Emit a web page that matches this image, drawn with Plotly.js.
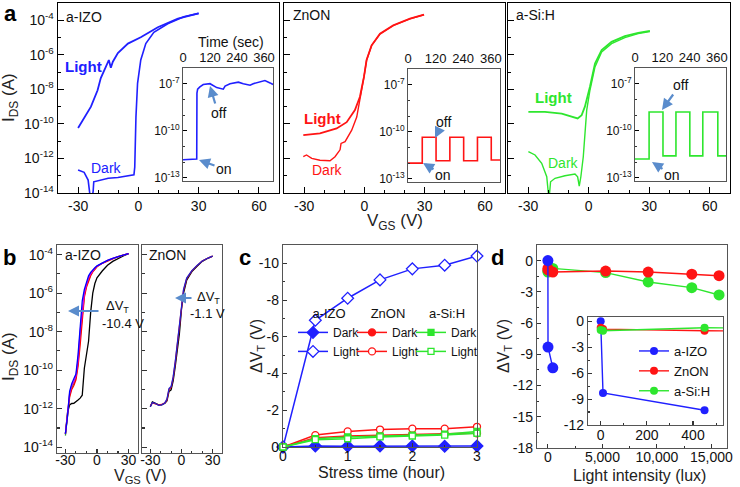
<!DOCTYPE html>
<html><head><meta charset="utf-8">
<script src="https://cdn.plot.ly/plotly-3.0.1.min.js"></script>
<style>html,body{margin:0;padding:0;background:#fff;}#chart{width:740px;height:487px;}</style>
</head><body><div id="chart"></div>
<script>
// ================= DATA =================
// Panel a : transfer curves, V_GS (V) and log10(I_DS / A)
const izoLightV = [-30, -27.6, -23.6, -20.3, -18.7, -16.2, -14.7, -13.7, -12.7, -10.2, -5.2, 1.2, 9.7, 19.7, 30];
const izoLightLogI = [-10.24, -9.8, -9.0, -8.05, -7.35, -6.7, -6.3, -6.75, -6.4, -5.9, -5.35, -4.98, -4.4, -3.9, -3.6];
const izoDarkV = [-30, -27, -25, -23.8, -23.2, -22.5, -22.2, -20, -18.7, -15, -10.2, -6, -2.2, -1.8, -1.2, -0.4, 1.2, 3.7, 7.7, 14.6, 22.6, 30];
const izoDarkLogI = [-12.67, -12.8, -13.25, -14.4, -14.4, -13.9, -13.35, -13.3, -13.25, -13.15, -13.1, -13.02, -12.95, -12.5, -9.6, -7.65, -6.3, -5.35, -4.7, -4.2, -3.8, -3.6];

const znonLightV = [-30.4, -22.1, -13.8, -8.8, -4.7, -2.2, -0.2, 1.1, 3.6, 7.8, 14.4, 22.7, 29.7];
const znonLightLogI = [-10.65, -10.55, -10.26, -9.9, -9.2, -8.43, -7.28, -6.3, -5.45, -4.77, -4.29, -3.9, -3.67];
const znonDarkV = [-30.4, -28.8, -26.2, -22.1, -17.1, -14.6, -12.1, -11.6, -9.6, -6.3, -3.8, -1.8, -0.2, 1.1, 3.6, 7.8, 14.4, 22.7, 29.7];
const znonDarkLogI = [-11.9, -11.8, -12.0, -12.1, -12.13, -11.9, -11.5, -11.13, -11.03, -10.36, -9.6, -8.43, -7.28, -6.32, -5.47, -4.8, -4.31, -3.92, -3.68];

const asiLightV = [-29.9, -21.7, -13.4, -7.7, -5.5, -3.5, -1.9, 0.6, 3.1, 6.4, 11.3, 17.9, 24.5, 30.3];
const asiLightLogI = [-9.3, -9.3, -9.4, -9.62, -9.68, -9.49, -9.0, -7.85, -6.5, -5.73, -5.25, -4.92, -4.73, -4.62];
const asiDarkV = [-29.9, -26.6, -23.3, -20.8, -19.7, -18.9, -16.7, -11.8, -6.8, -5.5, -4.7, -3.9, -2.7, -1.9, -1.0, 0.6, 3.1, 6.4, 11.3, 17.9, 24.5, 30.3];
const asiDarkLogI = [-11.6, -11.8, -12.28, -13.06, -14.4, -13.35, -13.15, -13.0, -12.9, -13.06, -13.6, -13.06, -11.9, -10.55, -9.2, -8.05, -6.7, -5.83, -5.35, -5.0, -4.77, -4.65];

// Panel a insets : time (s) and log10(I_DS)
const izoInsetT = [0, 61, 62, 65, 75, 90, 120, 150, 179, 187, 209, 246, 268, 298, 312, 364, 387, 400];
const izoInsetLogI = [-11.85, -11.8, -7.6, -7.35, -7.2, -7.05, -7.0, -7.25, -7.35, -7.15, -7.0, -6.9, -7.0, -7.1, -7.0, -6.8, -6.95, -7.05];
const znonInsetT = [0, 62, 62, 122, 122, 182, 182, 242, 242, 302, 302, 362, 362, 400];
const znonInsetLogI = [-12.0, -12.0, -10.35, -10.35, -11.85, -11.85, -10.35, -10.35, -11.85, -11.85, -10.35, -10.35, -11.8, -11.8];
const asiInsetT = [0, 62, 62, 123, 123, 180, 180, 241, 241, 298, 298, 364, 364, 400];
const asiInsetLogI = [-11.8, -11.8, -8.8, -8.8, -11.6, -11.6, -8.8, -8.8, -11.6, -11.6, -8.8, -8.8, -11.6, -11.6];

// Panel b : curves under light stress
const bIzoV = [-30, -28, -26, -24, -22, -20, -18, -16, -14, -12, -10, -8, -6, -4, -2, 0, 5, 10, 15, 20, 25, 30];
const bIzoBlack = [-13.3, -12.2, -11.8, -11.73, -11.72, -11.65, -11.55, -11.45, -11.3, -9.9, -9.05, -8.5, -7.0, -6.0, -5.5, -5.2, -4.85, -4.55, -4.35, -4.2, -4.07, -3.95];
const bIzoRed = [-13.3, -12.3, -11.4, -11.0, -10.8, -10.5, -9.8, -8.7, -7.3, -6.2, -5.7, -5.35, -5.1, -4.9, -4.75, -4.63, -4.45, -4.32, -4.2, -4.1, -4.02, -3.95];
const bIzoGreen = [-13.4, -12.3, -11.3, -10.9, -10.7, -10.4, -9.6, -8.3, -7.1, -6.1, -5.6, -5.28, -5.05, -4.86, -4.72, -4.62, -4.44, -4.31, -4.2, -4.1, -4.02, -3.95];
const bIzoMagenta = [-13.3, -12.35, -11.2, -10.8, -10.6, -10.3, -9.5, -8.0, -6.9, -6.0, -5.55, -5.2, -5.0, -4.82, -4.7, -4.6, -4.43, -4.3, -4.2, -4.1, -4.02, -3.95];
const bIzoBlue = [-13.3, -12.4, -11.1, -10.7, -10.45, -10.2, -9.2, -7.5, -6.4, -5.8, -5.45, -5.1, -4.92, -4.78, -4.68, -4.58, -4.42, -4.3, -4.2, -4.1, -4.02, -3.95];
const bZnonV = [-30, -28, -25, -22, -19, -16, -14, -12.5, -12, -10, -8, -6, -4, -2, 0, 2, 5, 10, 15, 20, 25, 30];
const bZnonBlack = [-11.9, -11.65, -11.72, -11.8, -11.8, -11.72, -11.6, -11.3, -11.1, -11.02, -10.55, -9.8, -8.95, -8.1, -6.85, -6.0, -5.33, -4.88, -4.6, -4.35, -4.2, -4.08];
const bZnonRed = [-11.85, -11.7, -11.75, -11.8, -11.78, -11.7, -11.55, -11.2, -11.0, -10.9, -10.4, -9.6, -8.7, -7.8, -6.6, -5.85, -5.25, -4.84, -4.57, -4.33, -4.19, -4.08];
const bZnonBlue = [-11.9, -11.68, -11.73, -11.82, -11.8, -11.7, -11.5, -11.15, -10.95, -10.85, -10.35, -9.55, -8.6, -7.7, -6.5, -5.8, -5.22, -4.83, -4.56, -4.33, -4.19, -4.08];

// Panel c : ΔV_T vs stress time
const stressHours = [0, 0.5, 1, 1.5, 2, 2.5, 3];
const cIzoDark = [0, -0.05, -0.04, -0.05, -0.05, -0.04, -0.05];
const cIzoLight = [0, -6.9, -8.1, -9.1, -9.7, -9.9, -10.4];
const cZnonDark = [0, -0.5, -0.6, -0.65, -0.7, -0.72, -0.75];
const cZnonLight = [0, -0.65, -0.85, -0.95, -1.0, -1.0, -1.1];
const cAsiDark = [0, -0.45, -0.55, -0.6, -0.65, -0.7, -0.85];
const cAsiLight = [0, -0.4, -0.45, -0.55, -0.6, -0.65, -0.75];

// Panel d : ΔV_T vs light intensity
const dIzoLux = [0, 10, 450];
const dIzoDVT = [0, -8.3, -10.3];
const dLux = [0, 10, 450, 5300, 9200, 13200, 15700];
const dZnonDVT = [-0.75, -0.9, -1.1, -1.0, -1.1, -1.3, -1.45];
const dAsiDVT = [-1.0, -1.1, -0.75, -1.15, -2.05, -2.6, -3.3];

// Tick labels
const logTicksA = [-14, -12, -10, -8, -6, -4];
const logMinorA = [-13, -11, -9, -7, -5, -3];
const insetTicks = [-13, -10, -7];
const insetMinor = [-12, -11, -9, -8];
const timeTicks = [0, 120, 240, 360];
const vTicksA = [-30, 0, 30, 60];
const vTicksB = [-30, 0, 30];
const cYTicks = [-10, -8, -6, -4, -2, 0];
const dYTicks = [0, -3, -6, -9, -12, -15, -18];
const dInsetYTicks = [0, -3, -6, -9, -12];
const dXTicks = [0, 5000, 10000, 15000];
const dXTickText = ['0', '5,000', '10,000', '15,000'];
const dInsetXTicks = [0, 200, 400];

// ================= STYLE / LAYOUT =================
const FONT = 'Arial, "Liberation Sans", sans-serif';
const BLUE = '#2020ff', RED = '#ff1414', GREEN = '#2ee62e', ARROW = '#5a8ccc';
const W = 740, H = 487;
const dx = (a, b) => [a / W, b / W];
const dy = (t, b) => [1 - b / H, 1 - t / H];
const pow10 = a => a.map(v => Math.pow(10, v));
const txt = v => String(v);

const traces = [];
function ln(x, y, xa, ya, color, width) {
  traces.push({type: 'scatter', mode: 'lines', x: x, y: y, xaxis: xa, yaxis: ya,
    line: {color: color, width: width}, showlegend: false, hoverinfo: 'skip'});
}
// Panel a
ln(izoLightV, pow10(izoLightLogI), 'x', 'y', BLUE, 1.8);
ln(izoDarkV, pow10(izoDarkLogI), 'x', 'y', BLUE, 1.6);
ln(znonLightV, pow10(znonLightLogI), 'x2', 'y2', RED, 1.8);
ln(znonDarkV, pow10(znonDarkLogI), 'x2', 'y2', RED, 1.4);
ln(asiLightV, pow10(asiLightLogI), 'x3', 'y3', GREEN, 1.8);
ln(asiDarkV, pow10(asiDarkLogI), 'x3', 'y3', GREEN, 1.4);
ln(izoInsetT, pow10(izoInsetLogI), 'x4', 'y4', BLUE, 1.6);
ln(znonInsetT, pow10(znonInsetLogI), 'x5', 'y5', RED, 1.6);
ln(asiInsetT, pow10(asiInsetLogI), 'x6', 'y6', GREEN, 1.6);
// Panel b
ln(bIzoV, pow10(bIzoBlack), 'x7', 'y7', '#000000', 1.3);
ln(bIzoV, pow10(bIzoGreen), 'x7', 'y7', '#3a9a3a', 1.3);
ln(bIzoV, pow10(bIzoRed), 'x7', 'y7', '#ff0000', 1.3);
ln(bIzoV, pow10(bIzoMagenta), 'x7', 'y7', '#e000e0', 1.3);
ln(bIzoV, pow10(bIzoBlue), 'x7', 'y7', '#0000ff', 1.3);
ln(bZnonV, pow10(bZnonBlack), 'x8', 'y8', '#000000', 1.3);
ln(bZnonV, pow10(bZnonRed), 'x8', 'y8', '#ff0000', 1.3);
ln(bZnonV, pow10(bZnonBlue), 'x8', 'y8', '#2020d0', 1.3);
// Panel c
function cTrace(y, color, symbol, open, name, leg, size) {
  traces.push({type: 'scatter', mode: 'lines+markers', x: stressHours, y: y, xaxis: 'x9', yaxis: 'y9',
    name: name, legend: leg, showlegend: true, cliponaxis: false, hoverinfo: 'skip',
    line: {color: color, width: 1.5},
    marker: {symbol: symbol, size: size, color: open ? '#ffffff' : color, line: {color: color, width: 1.3}}});
}
cTrace(cIzoDark, BLUE, 'diamond', false, 'Dark', 'legend', 9);
cTrace(cIzoLight, BLUE, 'diamond', true, 'Light', 'legend', 9);
cTrace(cZnonDark, RED, 'circle', false, 'Dark', 'legend2', 7);
cTrace(cZnonLight, RED, 'circle', true, 'Light', 'legend2', 7);
cTrace(cAsiDark, GREEN, 'square', false, 'Dark', 'legend3', 6);
cTrace(cAsiLight, GREEN, 'square', true, 'Light', 'legend3', 6);
// Panel d
function dTrace(x, y, color, xa, ya, size, name, show) {
  traces.push({type: 'scatter', mode: 'lines+markers', x: x, y: y, xaxis: xa, yaxis: ya,
    name: name, legend: 'legend4', showlegend: show, cliponaxis: true, hoverinfo: 'skip',
    line: {color: color, width: 1.4}, marker: {symbol: 'circle', size: size, color: color}});
}
dTrace(dLux, dAsiDVT, GREEN, 'x10', 'y10', 11, 'a-Si:H', false);
dTrace(dLux, dZnonDVT, RED, 'x10', 'y10', 11, 'ZnON', false);
dTrace(dIzoLux, dIzoDVT, BLUE, 'x10', 'y10', 11, 'a-IZO', false);
dTrace(dIzoLux, dIzoDVT, BLUE, 'x11', 'y11', 8, 'a-IZO', true);
dTrace(dLux, dZnonDVT, RED, 'x11', 'y11', 8, 'ZnON', true);
dTrace(dLux, dAsiDVT, GREEN, 'x11', 'y11', 8, 'a-Si:H', true);

// ---- axes ----
const sup = v => '10<sup>' + v + '</sup>';
function ax(o) {
  return Object.assign({showline: true, mirror: true, linecolor: '#000', linewidth: 1.4, ticks: 'inside',
    ticklen: 6, tickwidth: 1.1, tickcolor: '#000', showgrid: false, zeroline: false, fixedrange: true,
    tickfont: {family: FONT, size: 14, color: '#111'}}, o);
}
function logAxA(dom, anchor, labels) {
  return ax({domain: dom, anchor: anchor, type: 'log', range: [-14, -3], tickmode: 'array',
    tickvals: pow10(logTicksA), ticktext: logTicksA.map(sup), showticklabels: labels,
    minor: {tickmode: 'array', tickvals: pow10(logMinorA), ticks: 'inside', ticklen: 3, tickcolor: '#000'}});
}
function vAxA(dom, anchor) {
  return ax({domain: dom, anchor: anchor, range: [-40, 70], tickmode: 'array', tickvals: vTicksA,
    ticktext: vTicksA.map(txt), minor: {dtick: 10, tick0: 0, ticks: 'inside', ticklen: 3, tickcolor: '#000'}});
}
function insetX(dom, anchor) {
  return ax({domain: dom, anchor: anchor, side: 'top', range: [0, 400], tickmode: 'array', tickvals: timeTicks,
    ticktext: timeTicks.map(txt), linecolor: '#555', linewidth: 1, ticks: '', mirror: true,
    tickfont: {family: FONT, size: 13, color: '#111'}});
}
function insetY(dom, anchor) {
  return ax({domain: dom, anchor: anchor, type: 'log', range: [-13.2, -6], tickmode: 'array',
    tickvals: pow10(insetTicks), ticktext: insetTicks.map(sup), linecolor: '#555', linewidth: 1, ticklen: 4,
    tickfont: {family: FONT, size: 12, color: '#111'},
    minor: {tickmode: 'array', tickvals: pow10(insetMinor), ticks: 'inside', ticklen: 2, tickcolor: '#333'}});
}
const grey = {linecolor: '#555', linewidth: 1.2, tickcolor: '#333'};
function logAxB(dom, anchor, labels) {
  return ax(Object.assign({domain: dom, anchor: anchor, type: 'log', range: [-14.3, -3.5], tickmode: 'array',
    tickvals: pow10(logTicksA), ticktext: logTicksA.map(sup), showticklabels: labels, ticklen: 5,
    minor: {tickmode: 'array', tickvals: pow10(logMinorA), ticks: 'inside', ticklen: 3, tickcolor: '#333'}}, grey));
}
function vAxB(dom, anchor) {
  return ax(Object.assign({domain: dom, anchor: anchor, range: [-38, 39], tickmode: 'array', tickvals: vTicksB,
    ticktext: vTicksB.map(txt), ticklen: 4, ticklabelstandoff: -6,
    minor: {dtick: 10, tick0: 0, ticks: 'inside', ticklen: 2, tickcolor: '#333'}}, grey));
}

const layout = {
  width: W, height: H, autosize: false, margin: {l: 0, r: 0, t: 0, b: 0, pad: 0},
  paper_bgcolor: '#fff', plot_bgcolor: 'rgba(0,0,0,0)', font: {family: FONT, color: '#111'},
  showlegend: true,
  xaxis: vAxA(dx(58, 279), 'y'), yaxis: logAxA(dy(3, 193), 'x', true),
  xaxis2: vAxA(dx(284, 505), 'y2'), yaxis2: logAxA(dy(3, 193), 'x2', false),
  xaxis3: vAxA(dx(508, 730), 'y3'), yaxis3: logAxA(dy(3, 193), 'x3', false),
  xaxis4: insetX(dx(183, 273), 'y4'), yaxis4: insetY(dy(68, 181), 'x4'),
  xaxis5: insetX(dx(408, 500), 'y5'), yaxis5: insetY(dy(69, 182), 'x5'),
  xaxis6: insetX(dx(635, 726), 'y6'), yaxis6: insetY(dy(68, 181), 'x6'),
  xaxis7: vAxB(dx(57, 138), 'y7'), yaxis7: logAxB(dy(245, 453), 'x7', true),
  xaxis8: vAxB(dx(142, 222), 'y8'), yaxis8: logAxB(dy(245, 453), 'x8', false),
  xaxis9: ax(Object.assign({domain: dx(283, 477), anchor: 'y9', range: [0, 3], tickmode: 'array', tickvals: [0, 1, 2, 3],
    ticktext: ['0', '1', '2', '3'], ticklen: 4, ticklabelstandoff: -4, tickfont: {family: FONT, size: 14, color: '#111'},
    minor: {dtick: 0.5, ticks: 'inside', ticklen: 2, tickcolor: '#333'}}, grey)),
  yaxis9: ax(Object.assign({domain: dy(245, 447), anchor: 'x9', range: [0, -11], tickmode: 'array', tickvals: cYTicks,
    ticktext: cYTicks.map(txt), ticklen: 4, tickfont: {family: FONT, size: 14, color: '#111'},
    minor: {dtick: 1, ticks: 'inside', ticklen: 2, tickcolor: '#333'}}, grey)),
  xaxis10: ax(Object.assign({domain: dx(537, 727), anchor: 'y10', range: [-1000, 16430], tickmode: 'array',
    tickvals: dXTicks, ticktext: dXTickText, ticklen: 4, ticklabelstandoff: -4, tickfont: {family: FONT, size: 14, color: '#111'},
    minor: {dtick: 2500, ticks: 'inside', ticklen: 2, tickcolor: '#333'}}, grey)),
  yaxis10: ax(Object.assign({domain: dy(245, 448), anchor: 'x10', range: [-18, 1.5], tickmode: 'array',
    tickvals: dYTicks, ticktext: dYTicks.map(txt), ticklen: 4, tickfont: {family: FONT, size: 14, color: '#111'},
    minor: {dtick: 1.5, ticks: 'inside', ticklen: 2, tickcolor: '#333'}}, grey)),
  xaxis11: ax(Object.assign({domain: dx(588, 723), anchor: 'y11', range: [-55, 530], tickmode: 'array',
    tickvals: dInsetXTicks, ticktext: dInsetXTicks.map(txt), ticklen: 4, ticklabelstandoff: -3, tickfont: {family: FONT, size: 14, color: '#111'},
    minor: {dtick: 100, ticks: 'inside', ticklen: 2, tickcolor: '#333'}}, grey)),
  yaxis11: ax(Object.assign({domain: dy(317, 425), anchor: 'x11', range: [-12, 0.5], tickmode: 'array',
    tickvals: dInsetYTicks, ticktext: dInsetYTicks.map(txt), ticklen: 4, tickfont: {family: FONT, size: 14, color: '#111'},
    minor: {dtick: 1.5, ticks: 'inside', ticklen: 2, tickcolor: '#333'}}, grey)),
  annotations: [],
  shapes: []
};

function legendAt(x, y, title) {
  const l = {x: x / W, y: 1 - y / H, xanchor: 'left', yanchor: 'top', orientation: 'v', bgcolor: 'rgba(0,0,0,0)',
    borderwidth: 0, itemwidth: 30, tracegroupgap: 0, font: {family: FONT, size: 12, color: '#111'}};
  if (title) l.title = {text: title, side: 'top center', font: {family: FONT, size: 13, color: '#111'}};
  return l;
}
layout.legend = legendAt(293, 301, 'a-IZO');
layout.legend2 = legendAt(352, 301, 'ZnON');
layout.legend3 = legendAt(411, 301, 'a-Si:H');
layout.legend4 = legendAt(634, 336, null);
layout.legend4.font.size = 13;

function note(text, x, y, o) {
  layout.annotations.push(Object.assign({text: text, x: x / W, y: 1 - y / H, xref: 'paper', yref: 'paper',
    showarrow: false, xanchor: 'center', yanchor: 'middle', font: {family: FONT, size: 14, color: '#111'}}, o || {}));
}
function arrow(text, tipX, tipY, axp, ayp) {
  layout.annotations.push({text: text, x: tipX / W, y: 1 - tipY / H, xref: 'paper', yref: 'paper', showarrow: true,
    ax: axp, ay: ayp, arrowhead: 2, arrowsize: 1, arrowwidth: 2.2, arrowcolor: ARROW, standoff: 0, startstandoff: 0,
    font: {family: FONT, size: 14, color: '#111'}});
}
const small = {family: FONT, size: 13, color: '#111'};
// panel letters
note('<b>a</b>', 10, 14, {font: {family: FONT, size: 22, color: '#000'}});
note('<b>b</b>', 9, 257, {font: {family: FONT, size: 22, color: '#000'}});
note('<b>c</b>', 245, 257, {font: {family: FONT, size: 22, color: '#000'}});
note('<b>d</b>', 497, 257, {font: {family: FONT, size: 22, color: '#000'}});
// panel a
note('a-IZO', 64, 17, {xanchor: 'left'});
note('ZnON', 291, 15, {xanchor: 'left'});
note('a-Si:H', 514, 15, {xanchor: 'left'});
note('<b>Light</b>', 83, 66, {font: {family: FONT, size: 15, color: BLUE}});
note('Dark', 106, 168, {font: {family: FONT, size: 14, color: BLUE}});
note('<b>Light</b>', 322, 118, {font: {family: FONT, size: 15, color: RED}});
note('Dark', 327, 170, {font: {family: FONT, size: 14, color: RED}});
note('<b>Light</b>', 553, 98, {font: {family: FONT, size: 15, color: GREEN}});
note('Dark', 563, 163, {font: {family: FONT, size: 14, color: GREEN}});
note('Time (sec)', 231, 42, {font: {family: FONT, size: 14, color: '#111'}});
note('I<sub>DS</sub> (A)', 10, 98, {textangle: -90, font: {family: FONT, size: 17, color: '#222'}});
note('V<sub>GS</sub> (V)', 395, 222, {font: {family: FONT, size: 17, color: '#222'}});
arrow('off', 210, 86, 8, 27);
arrow('on', 199, 160, 25, 9);
arrow('off', 435, 138, 8, -16);
arrow('on', 423, 163, 20, 12);
arrow('off', 662, 110, 18, -25);
arrow('on', 652, 162, 20, 13);
// panel b
note('a-IZO', 63, 255, {xanchor: 'left'});
note('ZnON', 147, 255, {xanchor: 'left'});
arrow('', 68, 311, 32, 0);
note('ΔV<sub>T</sub>', 104, 306, {xanchor: 'left', font: small});
note('-10.4 V', 100, 323, {xanchor: 'left', font: small});
arrow('', 175, 298, 18, 0);
note('ΔV<sub>T</sub>', 195, 297, {xanchor: 'left', font: small});
note('-1.1 V', 188, 313, {xanchor: 'left', font: small});
note('I<sub>DS</sub> (A)', 10, 357, {textangle: -90, font: {family: FONT, size: 17, color: '#222'}});
note('V<sub>GS</sub> (V)', 140, 476, {font: {family: FONT, size: 16, color: '#222'}});
// panel c, d
note('ΔV<sub>T</sub> (V)', 257, 346, {textangle: -90, font: {family: FONT, size: 16, color: '#222'}});
note('Stress time (hour)', 382, 472, {font: {family: FONT, size: 16, color: '#222'}});
note('ΔV<sub>T</sub> (V)', 504, 346, {textangle: -90, font: {family: FONT, size: 16, color: '#222'}});
note('Light intensity (lux)', 639, 475, {font: {family: FONT, size: 16, color: '#222'}});

Plotly.newPlot('chart', traces, layout, {staticPlot: true, displayModeBar: false});
</script></body></html>
